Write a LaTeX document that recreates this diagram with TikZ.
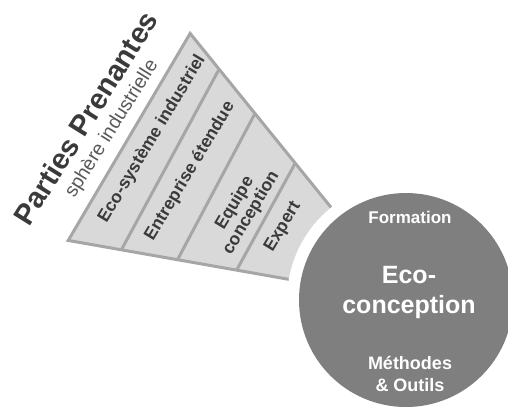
\documentclass[tikz,border=0pt]{standalone}
\usepackage{fontspec}
\setmainfont{Liberation Sans}
\usetikzlibrary{calc}

\definecolor{bandfill}{HTML}{D9D9D9}
\definecolor{bandline}{HTML}{A6A6A6}
\definecolor{darktext}{HTML}{3A3A3A}
\definecolor{subtext}{HTML}{595959}
\definecolor{core}{HTML}{7F7F7F}

\begin{document}
\begin{tikzpicture}[x=1pt, y=1pt, band/.style={ fill=bandfill },
    rim/.style={ draw=bandline, line width=3pt }, bandlabel/.style={
    text=darktext, rotate=59, align=center,
    font=\bfseries\fontsize{17.5}{19}\selectfont }, corelabel/.style={
    text=white, align=center, font=\bfseries\fontsize{17}{21}\selectfont } ]
  \useasboundingbox (0,0) rectangle (508,408);
  \coordinate (c) at (406,108);
  % funnel
  \fill[band] ($(c)+(129:343)$) -- ($(c)+(170:343)$) -- ($(c)+(170:90)$)
    -- ($(c)+(129:90)$) -- cycle;
  \foreach \a/\b in {297/289,240/232,176/172}
  \draw[rim] ($(c)+(129:\a)$) -- ($(c)+(170:\b)$);
  \draw[rim] ($(c)+(129:90)$) -- ($(c)+(129:343)$) -- ($(c)+(170:343)$)
    -- ($(c)+(170:90)$);
  \foreach \r/\t/\txt [count=\i] in {300.7/147.6/{Eco-système industriel},
    251.6/149.2/{Entreprise étendue},187/150.6/{Equipe\\conception},
    143/149.3/Expert}
  \node[bandlabel] (band\i) at ($(c)+(\t:\r)$) {\txt};
  % core
  \fill[white] (c) circle (119);
  \fill[core] (c) circle (107);
  \node[corelabel] (formation) at (410,191) {Formation};
  \node[corelabel, font=\bfseries\fontsize{25}{30}\selectfont] (eco)
    at (409,116) {Eco-\\conception};
  \node[corelabel, font=\bfseries\fontsize{18}{22}\selectfont] (outils)
    at (410,34) {Méthodes\\\& Outils};
  % title
  \node[text=darktext, rotate=58, font=\bfseries\fontsize{29}{31}\selectfont]
    (title) at (85.5,290) {Parties Prenantes};
  \node[text=subtext, rotate=58, font=\fontsize{19.5}{21}\selectfont]
    (sphere) at (112,279) {sphère industrielle};
\end{tikzpicture}
\end{document}
